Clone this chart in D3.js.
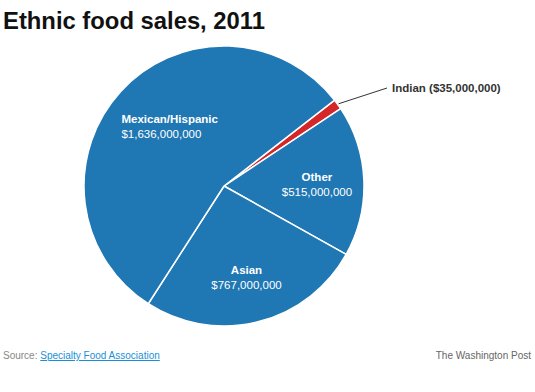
<!DOCTYPE html>
<html><head><meta charset="utf-8">
<script src="https://cdn.jsdelivr.net/npm/d3@7"></script>
<style>
body{margin:0;background:#fff;}
text{font-family:"Liberation Sans",Arial,sans-serif;}
</style></head>
<body>
<svg id="c" width="535" height="392"></svg>
<script>
const categories = ["Indian", "Other", "Asian", "Mexican/Hispanic"];
const values = [35000000, 515000000, 767000000, 1636000000];
const colors = ["#d62728", "#1f77b4", "#1f77b4", "#1f77b4"];

const svg = d3.select("#c");
const cx = 224, cy = 186, R = 140;

svg.append("text").attr("x", 3).attr("y", 29)
  .attr("font-size", 24).attr("font-weight", "bold").attr("fill", "#111")
  .attr("textLength", 262).attr("lengthAdjust", "spacingAndGlyphs")
  .text("Ethnic food sales, 2011");

const data = categories.map((c, i) => ({cat: c, value: values[i], color: colors[i]}));
const start = 52.2 * Math.PI / 180;
const pie = d3.pie().sort(null).value(d => d.value).startAngle(start).endAngle(start + 2 * Math.PI);
const arcs = pie(data);
const arc = d3.arc().innerRadius(0).outerRadius(R);
const labelArc = d3.arc().innerRadius(93).outerRadius(93);

const g = svg.append("g").attr("transform", `translate(${cx},${cy})`);
g.selectAll("path").data(arcs).join("path")
  .attr("d", arc).attr("fill", d => d.data.color)
  .attr("stroke", "#fff").attr("stroke-width", 1.5).attr("stroke-linejoin", "round");

const fmt = d3.format(",");
const opts = {
  "Mexican/Hispanic": {dx: -34, dy: 3, anchor: "start"},
  "Other": {dx: 0, dy: 1, anchor: "middle"},
  "Asian": {dx: 0, dy: 1, anchor: "middle"}
};
arcs.filter(d => d.data.cat !== "Indian").forEach(d => {
  const [x, y] = labelArc.centroid(d);
  const o = opts[d.data.cat];
  const t = g.append("text").attr("text-anchor", o.anchor).attr("fill", "#fff").attr("font-size", 11.5);
  t.append("tspan").attr("x", x + o.dx).attr("y", y + o.dy - 3).attr("font-weight", "bold").text(d.data.cat);
  t.append("tspan").attr("x", x + o.dx).attr("y", y + o.dy + 12).text("$" + fmt(d.data.value));
});

// Indian callout
const ind = arcs[0];
const mid = (ind.startAngle + ind.endAngle) / 2;
const p0 = [Math.sin(mid) * (R + 1), -Math.cos(mid) * (R + 1)];
const p1 = [163, -98];
g.append("path").attr("d", d3.line()([p0, p1])).attr("stroke", "#333").attr("stroke-width", 1).attr("fill", "none");
g.append("text").attr("x", p1[0] + 5).attr("y", p1[1] + 4).attr("font-size", 11.5).attr("font-weight", "bold")
  .attr("fill", "#333").text(ind.data.cat + " ($" + fmt(ind.data.value) + ")");

// footer
const src = svg.append("text").attr("x", 3).attr("y", 359).attr("font-size", 10).attr("fill", "#888");
src.append("tspan").text("Source: ");
src.append("tspan").attr("fill", "#1a8fd8").attr("text-decoration", "underline").text("Specialty Food Association");
svg.append("text").attr("x", 531).attr("y", 359).attr("font-size", 10).attr("fill", "#666")
  .attr("text-anchor", "end").text("The Washington Post");
</script>
</body></html>
